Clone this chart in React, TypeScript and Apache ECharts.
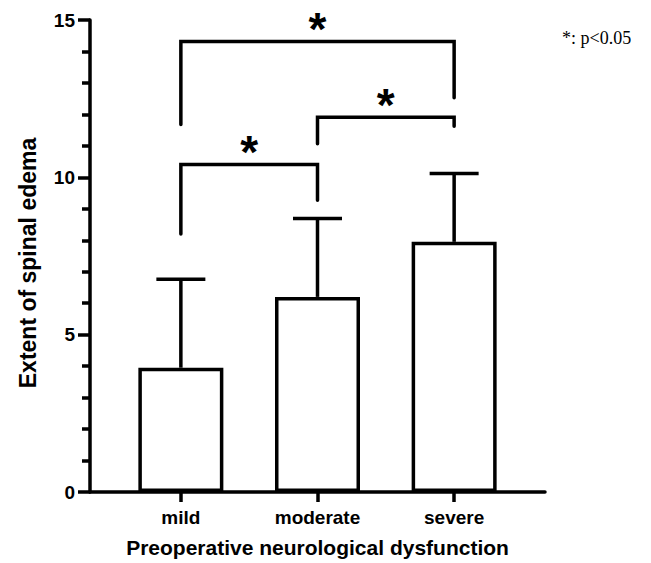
import React, { useEffect, useRef } from "react";
import * as echarts from "echarts";

// ---- data ----
const categories = ["mild", "moderate", "severe"];
const means = [3.95, 6.2, 7.95];
const upperErrors = [6.76, 8.69, 10.12];
const yTicks = [0, 5, 10, 15];
// pairwise comparisons
const compFrom = [0, 1, 0];
const compTo = [1, 2, 2];
const compLeftEnd = [8.2, 11.07, 11.68];
const compRightEnd = [9.27, 11.62, 12.53];
const compTop = [10.41, 11.91, 14.32];
const compLabels = ["*", "*", "*"];
const legendNote = "*: p<0.05";
const xAxisTitle = "Preoperative neurological dysfunction";
const yAxisTitle = "Extent of spinal edema";

const SANS = "'Liberation Sans', Arial, Helvetica, sans-serif";
const SERIF = "'Liberation Serif', 'Times New Roman', serif";
const LW = 3.5;

export default function App() {
  const ref = useRef<HTMLDivElement>(null);

  useEffect(() => {
    if (!ref.current) return;
    const chart = echarts.init(ref.current, null, { renderer: "svg" });
    const idx = categories.map((_, i) => i);

    const option: any = {
      animation: false,
      backgroundColor: "#fff",
      grid: { left: 90, right: 106, top: 20, bottom: 71, containLabel: false },
      xAxis: {
        type: "value",
        min: -0.665,
        max: 2.665,
        axisLine: { show: true, onZero: false, lineStyle: { color: "#000", width: LW } },
        axisTick: { show: true, customValues: idx, length: 10, lineStyle: { color: "#000", width: LW } },
        axisLabel: {
          show: true,
          customValues: idx,
          formatter: (v: number) => categories[Math.round(v)] ?? "",
          color: "#000",
          fontFamily: SANS,
          fontWeight: "bold",
          fontSize: 19,
          margin: 16,
        },
        splitLine: { show: false },
        name: xAxisTitle,
        nameLocation: "middle",
        nameGap: 45,
        nameTextStyle: { color: "#000", fontFamily: SANS, fontWeight: "bold", fontSize: 21 },
      },
      yAxis: {
        type: "value",
        min: yTicks[0],
        max: yTicks[yTicks.length - 1],
        interval: yTicks[1] - yTicks[0],
        axisLine: { show: true, onZero: false, lineStyle: { color: "#000", width: LW } },
        axisTick: { show: true, length: 12, lineStyle: { color: "#000", width: LW } },
        minorTick: { show: true, splitNumber: 5, length: 8, lineStyle: { color: "#000", width: LW } },
        axisLabel: {
          color: "#000",
          fontFamily: SANS,
          fontWeight: "bold",
          fontSize: 19,
          margin: 15,
        },
        splitLine: { show: false },
        minorSplitLine: { show: false },
      },
      graphic: [
        {
          type: "text",
          x: 28,
          y: 263,
          rotation: Math.PI / 2,
          style: {
            text: yAxisTitle,
            fill: "#000",
            font: `bold 23px ${SANS}`,
            align: "center",
            verticalAlign: "middle",
          },
        },
        {
          type: "text",
          x: 562,
          y: 38,
          style: {
            text: legendNote,
            fill: "#000",
            font: `18px ${SERIF}`,
            align: "left",
            verticalAlign: "middle",
          },
        },
      ],
      series: [
        {
          type: "bar",
          data: means.map((v, i) => [i, v]),
          barWidth: 85,
          itemStyle: { color: "#fff", borderColor: "#000", borderWidth: LW },
          z: 2,
        },
        {
          type: "custom",
          data: means.map((m, i) => [i, m, upperErrors[i]]),
          z: 3,
          renderItem: (params: any, api: any) => {
            const p0 = api.coord([api.value(0), api.value(1)]);
            const p1 = api.coord([api.value(0), api.value(2)]);
            const st = { stroke: "#000", lineWidth: LW };
            return {
              type: "group",
              children: [
                { type: "line", shape: { x1: p0[0], y1: p0[1], x2: p1[0], y2: p1[1] }, style: st },
                { type: "line", shape: { x1: p1[0] - 24.5, y1: p1[1], x2: p1[0] + 24.5, y2: p1[1] }, style: st },
              ],
            };
          },
        },
        {
          type: "custom",
          data: compFrom.map((f, i) => [f, compTo[i], compLeftEnd[i], compRightEnd[i], compTop[i]]),
          z: 3,
          renderItem: (params: any, api: any) => {
            const i = params.dataIndex;
            const a = api.coord([api.value(0), api.value(2)]);
            const b = api.coord([api.value(0), api.value(4)]);
            const c = api.coord([api.value(1), api.value(4)]);
            const d = api.coord([api.value(1), api.value(3)]);
            return {
              type: "group",
              children: [
                {
                  type: "polyline",
                  shape: { points: [a, b, c, d] },
                  style: { stroke: "#000", lineWidth: LW, fill: "none", lineJoin: "miter", lineCap: "round" },
                },
                {
                  type: "text",
                  x: (b[0] + c[0]) / 2,
                  y: b[1] - 12.5,
                  style: {
                    text: compLabels[i],
                    fill: "#000",
                    font: `bold 46px ${SANS}`,
                    align: "center",
                    verticalAlign: "middle",
                  },
                },
              ],
            };
          },
        },
      ],
    };

    chart.setOption(option);
    return () => chart.dispose();
  }, []);

  return (
    <div
      ref={ref}
      style={{ position: "absolute", left: 0, top: 0, width: 651, height: 563, background: "#fff" }}
    />
  );
}
